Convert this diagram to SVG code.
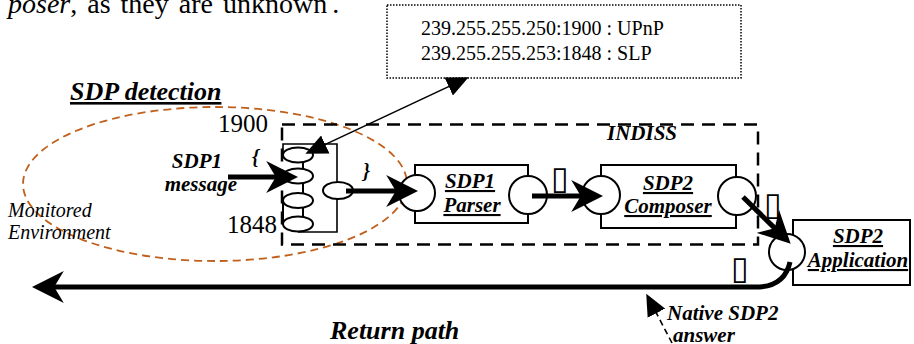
<svg xmlns="http://www.w3.org/2000/svg" width="914" height="344" viewBox="0 0 914 344">
<style>
.serif{font-family:"Liberation Serif","Times New Roman",serif;fill:#000}
.bi{font-family:"Liberation Serif","Times New Roman",serif;font-weight:bold;font-style:italic;fill:#000}
.ul{text-decoration:underline}
.box{fill:#fff;stroke:#000;stroke-width:2}
.port{fill:#fff;stroke:#000;stroke-width:2}
.thick{fill:none;stroke:#000;stroke-width:5}
.thin{fill:none;stroke:#000;stroke-width:1.6}
.tofu{font-family:"DejaVu Sans",sans-serif;fill:#000}
</style>
<defs>
<marker id="big" markerUnits="userSpaceOnUse" markerWidth="32" markerHeight="32" viewBox="0 0 30 30" refX="12" refY="15" orient="auto">
<path d="M0,0 L30,15 L0,30 L9,15 z" fill="#000"/>
</marker>
<marker id="small" markerUnits="userSpaceOnUse" markerWidth="22" markerHeight="20" viewBox="0 0 20 18" refX="2" refY="9" orient="auto-start-reverse">
<path d="M0,0 L20,9 L0,18 z" fill="#000"/>
</marker>
</defs>

<text class="serif" x="8" y="13" font-size="28" word-spacing="3"><tspan font-style="italic">poser</tspan>, as they are unknown<tspan dx="5">.</tspan></text>

<g id="address-note">
<rect x="387" y="5" width="354" height="73" fill="#fff" stroke="#000" stroke-width="1.5" stroke-dasharray="1.5 1.5"/>
<text class="serif" x="421" y="35" font-size="20">239.255.255.250:1900 : UPnP</text>
<text class="serif" x="421" y="60" font-size="20">239.255.255.253:1848 : SLP</text>
</g>

<g id="sdp-detection">
<text class="bi ul" x="70" y="100" font-size="26">SDP detection</text>
<ellipse cx="215" cy="184" rx="192" ry="77" fill="none" stroke="#C0601C" stroke-width="1.8" stroke-dasharray="8 5"/>
<text class="serif" x="8" y="217" font-size="20" font-style="italic">Monitored</text>
<text class="serif" x="8" y="239" font-size="20" font-style="italic">Environment</text>
</g>

<g id="indiss">
<rect x="282" y="124.5" width="476" height="120" fill="none" stroke="#000" stroke-width="2.5" stroke-dasharray="13 8"/>
<text class="bi" x="642" y="140" font-size="21" text-anchor="middle">INDISS</text>
</g>

<g id="ports">
<text class="serif" x="218" y="132" font-size="25">1900</text>
<text class="serif" x="227" y="233" font-size="25">1848</text>
<path d="M283,155 V144 H337 V232 H298" class="thin" stroke-width="2"/>
<line x1="283" y1="200" x2="283" y2="224" stroke="#000" stroke-width="2"/>
<line x1="303" y1="160" x2="303" y2="218" stroke="#000" stroke-width="2"/>
<ellipse cx="298" cy="155" rx="15" ry="7.5" class="port"/>
<ellipse cx="298" cy="176" rx="15" ry="7.5" class="port"/>
<ellipse cx="298" cy="200.5" rx="15" ry="7.5" class="port"/>
<ellipse cx="298" cy="224" rx="15" ry="7.5" class="port"/>
<ellipse cx="338" cy="190.5" rx="15" ry="8.5" class="port"/>
<text class="bi" x="252" y="164" font-size="20">{</text>
<text class="bi" x="363" y="178" font-size="20">}</text>
</g>

<g id="sdp1-message">
<text class="bi" x="222" y="168" font-size="21" text-anchor="end">SDP1</text>
<text class="bi" x="237" y="191" font-size="21" text-anchor="end">message</text>
</g>

<g id="sdp1-parser">
<rect x="415" y="165" width="113" height="58" class="box"/>
<circle cx="417" cy="193" r="18" class="port"/>
<circle cx="528" cy="195" r="19" class="port"/>
<text class="bi ul" x="470" y="188" font-size="21" text-anchor="middle">SDP1</text>
<text class="bi ul" x="472" y="212" font-size="21" text-anchor="middle">Parser</text>
</g>

<g id="sdp2-composer">
<rect x="601" y="165" width="135" height="63" class="box"/>
<circle cx="601" cy="195" r="19" class="port"/>
<circle cx="737" cy="196" r="19" class="port"/>
<text class="bi ul" x="668" y="190" font-size="21" text-anchor="middle">SDP2</text>
<text class="bi ul" x="668" y="213" font-size="21" text-anchor="middle">Composer</text>
</g>

<g id="sdp2-application">
<rect x="793" y="220" width="117" height="65" class="box"/>
<circle cx="787" cy="252" r="18" class="port"/>
<text class="bi ul" x="858" y="243" font-size="21" text-anchor="middle">SDP2</text>
<text class="bi ul" x="858" y="267" font-size="21" text-anchor="middle">Application</text>
</g>

<g id="connectors">
<line x1="323.3" y1="145.4" x2="450.7" y2="85.6" class="thin" marker-start="url(#small)" marker-end="url(#small)"/>
<line x1="228" y1="177" x2="279" y2="177" class="thick" marker-end="url(#big)"/>
<line x1="346" y1="191" x2="399" y2="191" class="thick" marker-end="url(#big)"/>
<line x1="532" y1="196" x2="584" y2="196" class="thick" marker-end="url(#big)"/>
<line x1="743" y1="197" x2="777" y2="230.4" class="thick" marker-end="url(#big)"/>
<path d="M790,262 Q785,285 760,287 L51,287" class="thick" marker-end="url(#big)"/>
<line x1="672" y1="343" x2="655.4" y2="311.2" class="thin" stroke-dasharray="6 4" marker-end="url(#small)"/>
</g>

<g id="labels">
<text class="tofu" x="551" y="189" font-size="32">▯</text>
<text class="tofu" x="764" y="215" font-size="32">▯</text>
<text class="tofu" x="731" y="279" font-size="32">▯</text>
<text class="bi" x="330" y="339" font-size="26">Return path</text>
<text class="bi" x="667" y="320" font-size="21">Native SDP2</text>
<text class="bi" x="673" y="342" font-size="21">answer</text>
</g>
</svg>
